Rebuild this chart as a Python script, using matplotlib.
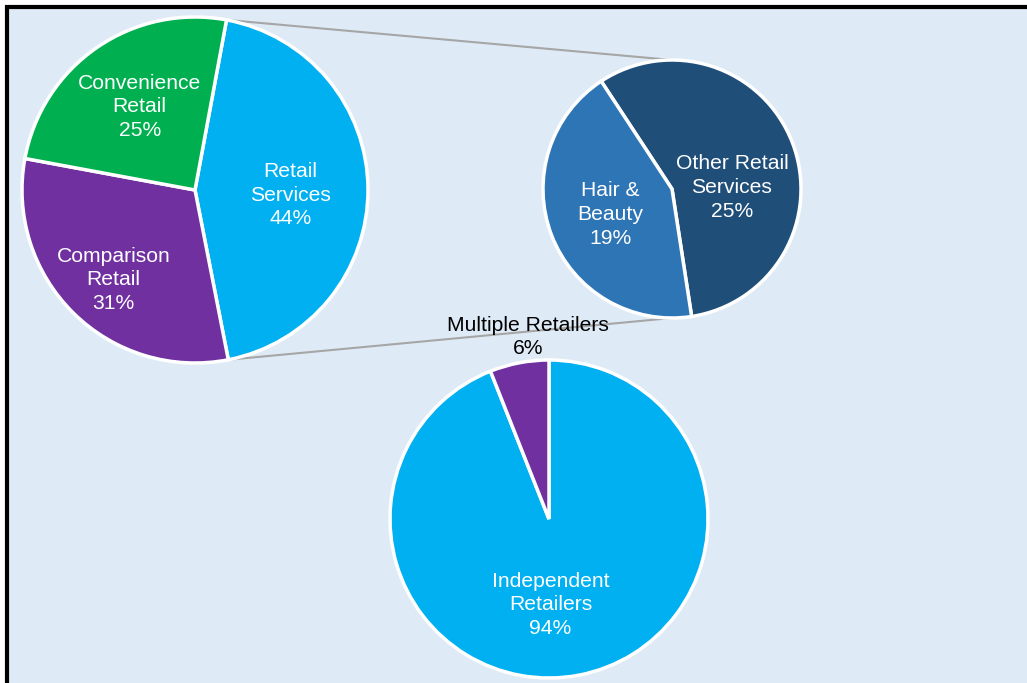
import matplotlib
matplotlib.use("Agg")
import matplotlib.pyplot as plt
from matplotlib.patches import Rectangle
import numpy as np

plt.rcParams['font.family'] = ['Liberation Sans', 'DejaVu Sans']

# ---- data ----
main_labels = ["Retail\nServices", "Comparison\nRetail", "Convenience\nRetail"]
main_values = [44, 31, 25]
main_colors = ["#00B0F0", "#7030A0", "#00B050"]

sub_labels = ["Other Retail\nServices", "Hair &\nBeauty"]
sub_values = [25, 19]
sub_colors = ["#1F4E79", "#2E75B6"]

own_labels = ["Independent\nRetailers", "Multiple Retailers"]
own_values = [94, 6]
own_colors = ["#00B0F0", "#7030A0"]

# ---- layout (pixel space, y up) ----
W, H = 1027, 683
fig = plt.figure(figsize=(W / 100, H / 100), dpi=100)
fig.patch.set_facecolor("white")
ax = fig.add_axes([0, 0, 1, 1])

bg = Rectangle((7, -20), W + 40, H - 7 + 20, facecolor="#DEEBF7",
               edgecolor="black", linewidth=3.0, zorder=0)
ax.add_patch(bg)

main_c, main_r, main_start = (195, H - 190), 173, 79.5
sub_c, sub_r, sub_start = (672, H - 189), 129, 123.3
own_c, own_r, own_start = (549, H - 519), 159, 90

wp = dict(edgecolor="white", linewidth=2.5)

w_main, _ = ax.pie(main_values, colors=main_colors, startangle=main_start,
                   counterclock=False, center=main_c, radius=main_r,
                   wedgeprops=wp, frame=True)
w_sub, _ = ax.pie(sub_values, colors=sub_colors, startangle=sub_start,
                  counterclock=False, center=sub_c, radius=sub_r,
                  wedgeprops=wp, frame=True)
w_own, _ = ax.pie(own_values, colors=own_colors, startangle=own_start,
                  counterclock=False, center=own_c, radius=own_r,
                  wedgeprops=wp, frame=True)
for w in list(w_main) + list(w_sub) + list(w_own):
    w.set_zorder(3)

# connector lines from Retail Services wedge edges to the breakdown pie
ws = w_main[0]
for ang, sy in ((ws.theta2, 1), (ws.theta1, -1)):
    a = np.deg2rad(ang)
    x0 = main_c[0] + main_r * np.cos(a)
    y0 = main_c[1] + main_r * np.sin(a)
    x1 = sub_c[0]
    y1 = sub_c[1] + sy * sub_r
    ax.plot([x0, x1], [y0, y1], color="#A6A6A6", lw=1.5, zorder=2,
            solid_capstyle="butt")

fs = 15.2
ls = 1.32

def pct(v, tot):
    return f"{round(100 * v / tot)}%"

tot = sum(main_values)
# label offsets relative to pie centre, in radius units (x right, y up)
main_off = [(0.55, -0.03), (-0.47, -0.52), (-0.32, 0.48)]
for lab, v, (dx, dy) in zip(main_labels, main_values, main_off):
    ax.text(main_c[0] + dx * main_r, main_c[1] + dy * main_r,
            f"{lab}\n{pct(v, tot)}", color="white", fontsize=fs,
            ha="center", va="center", zorder=5, linespacing=ls)

sub_off = [(0.465, 0.01), (-0.48, -0.2)]
for lab, v, (dx, dy) in zip(sub_labels, sub_values, sub_off):
    ax.text(sub_c[0] + dx * sub_r, sub_c[1] + dy * sub_r,
            f"{lab}\n{pct(v, tot)}", color="white", fontsize=fs,
            ha="center", va="center", zorder=5, linespacing=ls)

own_off = [(0.01, -0.54), (-0.13, 1.145)]
own_col = ["white", "black"]
tot2 = sum(own_values)
for lab, v, (dx, dy), c in zip(own_labels, own_values, own_off, own_col):
    ax.text(own_c[0] + dx * own_r, own_c[1] + dy * own_r,
            f"{lab}\n{pct(v, tot2)}", color=c, fontsize=fs,
            ha="center", va="center", zorder=5, linespacing=ls)

ax.set_xlim(0, W)
ax.set_ylim(0, H)
ax.set_aspect("auto")
ax.set_axis_off()

fig.savefig("out.png", dpi=100, facecolor="white")
